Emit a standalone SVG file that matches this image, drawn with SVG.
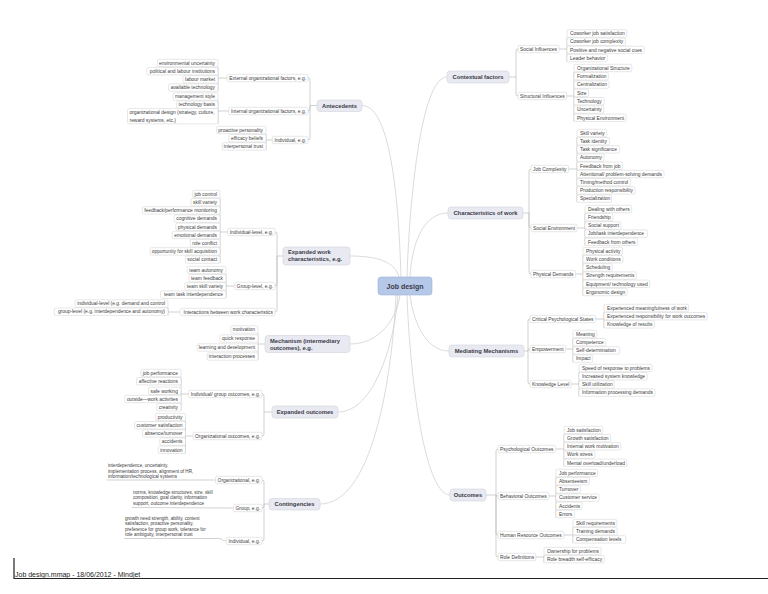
<svg xmlns="http://www.w3.org/2000/svg" width="768" height="594" viewBox="0 0 768 594">
<style>
.c{fill:none;stroke:#b3b3b3;stroke-width:.6}
.m{fill:none;stroke:#d2d2d2;stroke-width:.8}
.lf{fill:#fff;stroke:#cfcfcf;stroke-width:.5}
.t{font-family:"Liberation Sans",Arial,sans-serif;font-size:4.9px;fill:#3c3c3c}
.e{text-anchor:end}
.s{font-size:4.6px}
.mt{fill:#e9eaf1;stroke:#d2d4de;stroke-width:.6}
.rt{fill:#b5c8e8;stroke:#a0b4d8;stroke-width:.6}
.b{font-family:"Liberation Sans",Arial,sans-serif;font-weight:bold;font-size:5.8px;fill:#3a3a48}
.mid{text-anchor:middle}
</style>
<rect width="768" height="594" fill="#fff"/>
<g id="connectors">
<path class="m" d="M362,105.5 C392,105.5 399,210 401,277 M447,77 C420,77 409,210 407,277 M448,213 C425,213 412,240 410,277 M350,256 C378,256 395,262 399,277 M350,344 C380,344 397,318 400,295 M338,412 C375,412 395,340 398,295 M320,504 C372,504 392,380 396,295 M449,351 C425,351 413,320 410,295 M450,495 C425,495 410,380 407,295"/>
<path class="c" d="M509,77H516 M516,77V51Q516,49 518,49 M516,77V94Q516,96 518,96
M523,213H529 M529,213V171Q529,169 531,169 M529,213V226Q529,228 531,228 M529,213V272Q529,274 531,274
M524,351H528 M528,351V321Q528,319 530,319 M528,351V350.5Q528,349 530,349 M528,351V382Q528,384 530,384
M486,495H496 M496,495V451Q496,449 498,449 M496,495Q496,496 498,496 M496,495V533Q496,535 498,535 M496,495V555Q496,557 498,557
M317,105.5H310 M310,105.5V80Q310,78 308,78 M310,105.5V109Q310,111 308,111 M310,105.5V138Q310,140 308,140
M283,256H277 M277,256V234Q277,232 275,232 M277,256V284Q277,286 275,286 M277,256V310Q277,312 275,312
M272,412H264 M264,412V396Q264,394 262,394 M264,412V434Q264,436 262,436
M269,504H264 M264,504V482Q264,480 262,480 M264,504V506Q264,508 262,508 M264,504V539Q264,541 262,541"/>
<path class="c" d="M559,49H567 M567,37.2V61.8 M566.7,96H574 M574,71.7V121.5
M568.5,169H577 M577,136.7V202.3 M577.2,228H585 M585,212.7V245.5 M575.6,274H583 M583,254.7V295.7
M595.5,319H604 M604,311.7V328.1 M565.6,349H573 M573,337.7V362.3 M571.3,384H579 M579,371.7V396.3
M555.6,449H564 M564,433.7V466.5 M548.8,496H556 M556,476.7V517.7 M563.8,535H573 M573,526.7V543.1 M535.8,557H544 M544,554.7V562.9
M227.2,78H218 M218,66.7V91.3 M228.8,111H218 M218,100.2V123.8 M272.4,140H266 M266,133.7V150.1
M227.7,232H220 M220,197.7V263.3 M234.8,286H226 M226,273.7V298.3 M180,312H168 M168,307.2V315.4
M265,344H258 M258,333.2V360.2
M188.5,394H181 M181,376.7V410.9 M192.9,436H185.5 M185.5,420.7V453.5
M107,480H215.5 M132,507.5L233.5,508 M124,538.5H219 C222,538.5 222,541 226.4,541"/>
</g>
<g id="n-root"><rect class="rt" x="378" y="277" width="54" height="18" rx="3"/><text class="b mid" x="405" y="288.5" style="font-size:7px">Job design</text></g>
<g id="n-contextual"><rect class="mt" x="447" y="71" width="62" height="12" rx="3"/><text class="b mid" x="478" y="79">Contextual factors</text></g>
<g id="n-characteristics"><rect class="mt" x="448" y="207" width="75" height="12" rx="3"/><text class="b mid" x="485.5" y="215">Characteristics of work</text></g>
<g id="n-mediating"><rect class="mt" x="449" y="345" width="75" height="12" rx="3"/><text class="b mid" x="486.5" y="353">Mediating Mechanisms</text></g>
<g id="n-outcomes"><rect class="mt" x="450" y="489" width="36" height="12" rx="3"/><text class="b mid" x="468" y="497">Outcomes</text></g>
<g id="n-antecedents"><rect class="mt" x="317" y="100" width="45" height="11.5" rx="3"/><text class="b mid" x="339.5" y="107.6">Antecedents</text></g>
<g id="n-expwork"><rect class="mt" x="283" y="247" width="67" height="18" rx="3"/><text class="b" x="288" y="254.3">Expanded work</text><text class="b" x="288" y="261.3">characteristics, e.g.</text></g>
<g id="n-mechanism"><rect class="mt" x="265" y="335.5" width="85" height="17" rx="3"/><text class="b" x="270" y="342.5">Mechanism (intermediary</text><text class="b" x="270" y="349.5">outcomes), e.g.</text></g>
<g id="n-expout"><rect class="mt" x="272" y="406" width="66" height="12" rx="3"/><text class="b mid" x="305" y="414">Expanded outcomes</text></g>
<g id="n-contingencies"><rect class="mt" x="269" y="498.5" width="51" height="11.5" rx="3"/><text class="b mid" x="294.5" y="506.1">Contingencies</text></g>

<g id="n-social"><rect class="lf" x="518" y="45.3" width="41" height="7.4" rx="1.5"/><text class="t" x="520" y="50.7">Social Influences</text></g>
<g id="n-structural"><rect class="lf" x="518" y="92.3" width="48.7" height="7.4" rx="1.5"/><text class="t" x="520" y="97.7">Structural Influences</text></g>
<g id="n-s1"><rect class="lf" x="567" y="29.8" width="59.7" height="7.4" rx="1.5"/><text class="t" x="570" y="35.2">Coworker job satisfaction</text></g>
<g id="n-s2"><rect class="lf" x="567" y="38" width="58.4" height="7.4" rx="1.5"/><text class="t" x="570" y="43.4">Coworker job complexity</text></g>
<g id="n-s3"><rect class="lf" x="567" y="46.2" width="77.2" height="7.4" rx="1.5"/><text class="t" x="570" y="51.6">Positive and negative social cues</text></g>
<g id="n-s4"><rect class="lf" x="567" y="54.4" width="40.4" height="7.4" rx="1.5"/><text class="t" x="570" y="59.8">Leader behavior</text></g>
<g id="n-st1"><rect class="lf" x="574" y="64.3" width="57.8" height="7.4" rx="1.5"/><text class="t" x="577" y="69.7">Organizational Structure</text></g>
<g id="n-st2"><rect class="lf" x="574" y="72.6" width="34.4" height="7.4" rx="1.5"/><text class="t" x="577" y="78">Formalization</text></g>
<g id="n-st3"><rect class="lf" x="574" y="80.9" width="35" height="7.4" rx="1.5"/><text class="t" x="577" y="86.3">Centralization</text></g>
<g id="n-st4"><rect class="lf" x="574" y="89.2" width="14.5" height="7.4" rx="1.5"/><text class="t" x="577" y="94.6">Size</text></g>
<g id="n-st5"><rect class="lf" x="574" y="97.5" width="30.3" height="7.4" rx="1.5"/><text class="t" x="577" y="102.9">Technology</text></g>
<g id="n-st6"><rect class="lf" x="574" y="105.8" width="29.8" height="7.4" rx="1.5"/><text class="t" x="577" y="111.2">Uncertainty</text></g>
<g id="n-st7"><rect class="lf" x="574" y="114.1" width="52.1" height="7.4" rx="1.5"/><text class="t" x="577" y="119.5">Physical Environment</text></g>

<g id="n-jc"><rect class="lf" x="531" y="165.3" width="37.5" height="7.4" rx="1.5"/><text class="t" x="533" y="170.7">Job Complexity</text></g>
<g id="n-se"><rect class="lf" x="531" y="224.3" width="46.2" height="7.4" rx="1.5"/><text class="t" x="533" y="229.7">Social Environment</text></g>
<g id="n-pd"><rect class="lf" x="531" y="270.3" width="44.6" height="7.4" rx="1.5"/><text class="t" x="533" y="275.7">Physical Demands</text></g>
<g id="n-jc1"><rect class="lf" x="577" y="129.3" width="29.8" height="7.4" rx="1.5"/><text class="t" x="580" y="134.7">Skill variety</text></g>
<g id="n-jc2"><rect class="lf" x="577" y="137.5" width="32.5" height="7.4" rx="1.5"/><text class="t" x="580" y="142.9">Task identity</text></g>
<g id="n-jc3"><rect class="lf" x="577" y="145.7" width="42.6" height="7.4" rx="1.5"/><text class="t" x="580" y="151.1">Task significance</text></g>
<g id="n-jc4"><rect class="lf" x="577" y="153.9" width="27.1" height="7.4" rx="1.5"/><text class="t" x="580" y="159.3">Autonomy</text></g>
<g id="n-jc5"><rect class="lf" x="577" y="162.1" width="45.6" height="7.4" rx="1.5"/><text class="t" x="580" y="167.5">Feedback from job</text></g>
<g id="n-jc6"><rect class="lf" x="577" y="170.3" width="87" height="7.4" rx="1.5"/><text class="t" x="580" y="175.7">Attentional/ problem-solving demands</text></g>
<g id="n-jc7"><rect class="lf" x="577" y="178.5" width="53.5" height="7.4" rx="1.5"/><text class="t" x="580" y="183.9">Timing/method control</text></g>
<g id="n-jc8"><rect class="lf" x="577" y="186.7" width="58.1" height="7.4" rx="1.5"/><text class="t" x="580" y="192.1">Production responsibility</text></g>
<g id="n-jc9"><rect class="lf" x="577" y="194.9" width="34.7" height="7.4" rx="1.5"/><text class="t" x="580" y="200.3">Specialization</text></g>
<g id="n-se1"><rect class="lf" x="585" y="205.3" width="46.7" height="7.4" rx="1.5"/><text class="t" x="588" y="210.7">Dealing with others</text></g>
<g id="n-se2"><rect class="lf" x="585" y="213.5" width="27.9" height="7.4" rx="1.5"/><text class="t" x="588" y="218.9">Friendship</text></g>
<g id="n-se3"><rect class="lf" x="585" y="221.7" width="36" height="7.4" rx="1.5"/><text class="t" x="588" y="227.1">Social support</text></g>
<g id="n-se4"><rect class="lf" x="585" y="229.9" width="62.5" height="7.4" rx="1.5"/><text class="t" x="588" y="235.3">Job/task interdependence</text></g>
<g id="n-se5"><rect class="lf" x="585" y="238.1" width="52.7" height="7.4" rx="1.5"/><text class="t" x="588" y="243.5">Feedback from others</text></g>
<g id="n-pd1"><rect class="lf" x="583" y="247.3" width="39.6" height="7.4" rx="1.5"/><text class="t" x="586" y="252.7">Physical activity</text></g>
<g id="n-pd2"><rect class="lf" x="583" y="255.5" width="39.9" height="7.4" rx="1.5"/><text class="t" x="586" y="260.9">Work conditions</text></g>
<g id="n-pd3"><rect class="lf" x="583" y="263.7" width="29.2" height="7.4" rx="1.5"/><text class="t" x="586" y="269.1">Scheduling</text></g>
<g id="n-pd4"><rect class="lf" x="583" y="271.9" width="53.5" height="7.4" rx="1.5"/><text class="t" x="586" y="277.3">Strength requirements</text></g>
<g id="n-pd5"><rect class="lf" x="583" y="280.1" width="66.8" height="7.4" rx="1.5"/><text class="t" x="586" y="285.5">Equipment/ technology used</text></g>
<g id="n-pd6"><rect class="lf" x="583" y="288.3" width="44.2" height="7.4" rx="1.5"/><text class="t" x="586" y="293.7">Ergonomic design</text></g>

<g id="n-cps"><rect class="lf" x="530" y="315.3" width="65.5" height="7.4" rx="1.5"/><text class="t" x="532" y="320.7">Critical Psychological States</text></g>
<g id="n-emp"><rect class="lf" x="530" y="345.3" width="35.6" height="7.4" rx="1.5"/><text class="t" x="532" y="350.7">Empowerment</text></g>
<g id="n-kl"><rect class="lf" x="530" y="380.3" width="41.3" height="7.4" rx="1.5"/><text class="t" x="532" y="385.7">Knowledge Level</text></g>
<g id="n-cps1"><rect class="lf" x="604" y="304.3" width="84.6" height="7.4" rx="1.5"/><text class="t" x="607" y="309.7">Experienced meaningfulness of work</text></g>
<g id="n-cps2"><rect class="lf" x="604" y="312.5" width="103.3" height="7.4" rx="1.5"/><text class="t" x="607" y="317.9">Experienced responsibility for work outcomes</text></g>
<g id="n-cps3"><rect class="lf" x="604" y="320.7" width="50.5" height="7.4" rx="1.5"/><text class="t" x="607" y="326.1">Knowledge of results</text></g>
<g id="n-emp1"><rect class="lf" x="573" y="330.3" width="23.8" height="7.4" rx="1.5"/><text class="t" x="576" y="335.7">Meaning</text></g>
<g id="n-emp2"><rect class="lf" x="573" y="338.5" width="32.8" height="7.4" rx="1.5"/><text class="t" x="576" y="343.9">Competence</text></g>
<g id="n-emp3"><rect class="lf" x="573" y="346.7" width="46.7" height="7.4" rx="1.5"/><text class="t" x="576" y="352.1">Self-determination</text></g>
<g id="n-emp4"><rect class="lf" x="573" y="354.9" width="19.7" height="7.4" rx="1.5"/><text class="t" x="576" y="360.3">Impact</text></g>
<g id="n-kl1"><rect class="lf" x="579" y="364.3" width="73.1" height="7.4" rx="1.5"/><text class="t" x="582" y="369.7">Speed of response to problems</text></g>
<g id="n-kl2"><rect class="lf" x="579" y="372.5" width="68.2" height="7.4" rx="1.5"/><text class="t" x="582" y="377.9">Increased system knowledge</text></g>
<g id="n-kl3"><rect class="lf" x="579" y="380.7" width="35.3" height="7.4" rx="1.5"/><text class="t" x="582" y="386.1">Skill utilization</text></g>
<g id="n-kl4"><rect class="lf" x="579" y="388.9" width="76.1" height="7.4" rx="1.5"/><text class="t" x="582" y="394.3">Information processing demands</text></g>

<g id="n-psy"><rect class="lf" x="498" y="445.3" width="57.6" height="7.4" rx="1.5"/><text class="t" x="500" y="450.7">Psychological Outcomes</text></g>
<g id="n-beh"><rect class="lf" x="498" y="492.3" width="50.8" height="7.4" rx="1.5"/><text class="t" x="500" y="497.7">Behavioral Outcomes</text></g>
<g id="n-hr"><rect class="lf" x="498" y="531.3" width="65.8" height="7.4" rx="1.5"/><text class="t" x="500" y="536.7">Human Resource Outcomes</text></g>
<g id="n-rd"><rect class="lf" x="498" y="553.3" width="37.8" height="7.4" rx="1.5"/><text class="t" x="500" y="558.7">Role Definitions</text></g>
<g id="n-psy1"><rect class="lf" x="564" y="426.3" width="38.8" height="7.4" rx="1.5"/><text class="t" x="567" y="431.7">Job satisfaction</text></g>
<g id="n-psy2"><rect class="lf" x="564" y="434.5" width="46.7" height="7.4" rx="1.5"/><text class="t" x="567" y="439.9">Growth satisfaction</text></g>
<g id="n-psy3"><rect class="lf" x="564" y="442.7" width="56.7" height="7.4" rx="1.5"/><text class="t" x="567" y="448.1">Internal work motivation</text></g>
<g id="n-psy4"><rect class="lf" x="564" y="450.9" width="30.9" height="7.4" rx="1.5"/><text class="t" x="567" y="456.3">Work stress</text></g>
<g id="n-psy5"><rect class="lf" x="564" y="459.1" width="62.7" height="7.4" rx="1.5"/><text class="t" x="567" y="464.5">Mental overload/underload</text></g>
<g id="n-beh1"><rect class="lf" x="556" y="469.3" width="41.5" height="7.4" rx="1.5"/><text class="t" x="559" y="474.7">Job performance</text></g>
<g id="n-beh2"><rect class="lf" x="556" y="477.5" width="33.3" height="7.4" rx="1.5"/><text class="t" x="559" y="482.9">Absenteeism</text></g>
<g id="n-beh3"><rect class="lf" x="556" y="485.7" width="24.6" height="7.4" rx="1.5"/><text class="t" x="559" y="491.1">Turnover</text></g>
<g id="n-beh4"><rect class="lf" x="556" y="493.9" width="43.1" height="7.4" rx="1.5"/><text class="t" x="559" y="499.3">Customer service</text></g>
<g id="n-beh5"><rect class="lf" x="556" y="502.1" width="26.2" height="7.4" rx="1.5"/><text class="t" x="559" y="507.5">Accidents</text></g>
<g id="n-beh6"><rect class="lf" x="556" y="510.3" width="18.3" height="7.4" rx="1.5"/><text class="t" x="559" y="515.7">Errors</text></g>
<g id="n-hr1"><rect class="lf" x="573" y="519.3" width="43.9" height="7.4" rx="1.5"/><text class="t" x="576" y="524.7">Skill requirements</text></g>
<g id="n-hr2"><rect class="lf" x="573" y="527.5" width="44.2" height="7.4" rx="1.5"/><text class="t" x="576" y="532.9">Training demands</text></g>
<g id="n-hr3"><rect class="lf" x="573" y="535.7" width="52.7" height="7.4" rx="1.5"/><text class="t" x="576" y="541.1">Compensation levels</text></g>
<g id="n-rd1"><rect class="lf" x="544" y="547.3" width="57" height="7.4" rx="1.5"/><text class="t" x="547" y="552.7">Ownership for problems</text></g>
<g id="n-rd2"><rect class="lf" x="544" y="555.5" width="60.3" height="7.4" rx="1.5"/><text class="t" x="547" y="560.9">Role breadth self-efficacy</text></g>

<g id="n-ext"><rect class="lf" x="227.2" y="74.3" width="80.8" height="7.4" rx="1.5"/><text class="t e" x="306" y="79.7">External organizational factors, e.g.</text></g>
<g id="n-int"><rect class="lf" x="228.8" y="107.3" width="79.2" height="7.4" rx="1.5"/><text class="t e" x="306" y="112.7">Internal organizational factors, e.g.</text></g>
<g id="n-ind"><rect class="lf" x="272.4" y="136.3" width="35.6" height="7.4" rx="1.5"/><text class="t e" x="306" y="141.7">Individual, e.g.</text></g>
<g id="n-ext1"><rect class="lf" x="157.4" y="59.3" width="60.6" height="7.4" rx="1.5"/><text class="t e" x="215" y="64.7">environmental uncertainty</text></g>
<g id="n-ext2"><rect class="lf" x="146.8" y="67.5" width="71.2" height="7.4" rx="1.5"/><text class="t e" x="215" y="72.9">political and labour institutions</text></g>
<g id="n-ext3"><rect class="lf" x="183" y="75.7" width="35" height="7.4" rx="1.5"/><text class="t e" x="215" y="81.1">labour market</text></g>
<g id="n-ext4"><rect class="lf" x="168.6" y="83.9" width="49.4" height="7.4" rx="1.5"/><text class="t e" x="215" y="89.3">available technology</text></g>
<g id="n-int1"><rect class="lf" x="173" y="92.8" width="45" height="7.4" rx="1.5"/><text class="t e" x="215" y="98.2">management style</text></g>
<g id="n-int2"><rect class="lf" x="176.5" y="101" width="41.5" height="7.4" rx="1.5"/><text class="t e" x="215" y="106.4">technology basis</text></g>
<g id="n-int3"><rect class="lf" x="127.5" y="108.6" width="90.5" height="15.2" rx="1.5"/><text class="t" x="129.5" y="113.9">organizational design (strategy, culture,</text><text class="t" x="129.5" y="121.6">reward systems, etc.)</text></g>
<g id="n-ind1"><rect class="lf" x="216.6" y="126.3" width="49.4" height="7.4" rx="1.5"/><text class="t e" x="263" y="131.7">proactive personality</text></g>
<g id="n-ind2"><rect class="lf" x="228.9" y="134.5" width="37.1" height="7.4" rx="1.5"/><text class="t e" x="263" y="139.9">efficacy beliefs</text></g>
<g id="n-ind3"><rect class="lf" x="222.3" y="142.7" width="43.7" height="7.4" rx="1.5"/><text class="t e" x="263" y="148.1">interpersonal trust</text></g>

<g id="n-il"><rect class="lf" x="227.7" y="228.3" width="47.3" height="7.4" rx="1.5"/><text class="t e" x="273" y="233.7">Individual-level, e.g.</text></g>
<g id="n-gl"><rect class="lf" x="234.8" y="282.3" width="40.2" height="7.4" rx="1.5"/><text class="t e" x="273" y="287.7">Group-level, e.g.</text></g>
<g id="n-ia"><rect class="lf" x="180" y="308.3" width="95" height="7.4" rx="1.5"/><text class="t e" x="273" y="313.7">Interactions between work characteristics</text></g>
<g id="n-il1"><rect class="lf" x="192.4" y="190.3" width="27.6" height="7.4" rx="1.5"/><text class="t e" x="217" y="195.7">job control</text></g>
<g id="n-il2"><rect class="lf" x="191" y="198.5" width="29" height="7.4" rx="1.5"/><text class="t e" x="217" y="203.9">skill variety</text></g>
<g id="n-il3"><rect class="lf" x="142.3" y="206.7" width="77.7" height="7.4" rx="1.5"/><text class="t e" x="217" y="212.1">feedback/performance monitoring</text></g>
<g id="n-il4"><rect class="lf" x="174.1" y="214.9" width="45.9" height="7.4" rx="1.5"/><text class="t e" x="217" y="220.3">cognitive demands</text></g>
<g id="n-il5"><rect class="lf" x="175.8" y="223.1" width="44.2" height="7.4" rx="1.5"/><text class="t e" x="217" y="228.5">physical demands</text></g>
<g id="n-il6"><rect class="lf" x="172.2" y="231.3" width="47.8" height="7.4" rx="1.5"/><text class="t e" x="217" y="236.7">emotional demands</text></g>
<g id="n-il7"><rect class="lf" x="190.2" y="239.5" width="29.8" height="7.4" rx="1.5"/><text class="t e" x="217" y="244.9">role conflict</text></g>
<g id="n-il8"><rect class="lf" x="150.1" y="247.7" width="69.9" height="7.4" rx="1.5"/><text class="t e" x="217" y="253.1">opportunity for skill acquisition</text></g>
<g id="n-il9"><rect class="lf" x="185.3" y="255.9" width="34.7" height="7.4" rx="1.5"/><text class="t e" x="217" y="261.3">social contact</text></g>
<g id="n-gl1"><rect class="lf" x="187.2" y="266.3" width="38.8" height="7.4" rx="1.5"/><text class="t e" x="223" y="271.7">team autonomy</text></g>
<g id="n-gl2"><rect class="lf" x="188.9" y="274.5" width="37.1" height="7.4" rx="1.5"/><text class="t e" x="223" y="279.9">team feedback</text></g>
<g id="n-gl3"><rect class="lf" x="184.8" y="282.7" width="41.2" height="7.4" rx="1.5"/><text class="t e" x="223" y="288.1">team skill variety</text></g>
<g id="n-gl4"><rect class="lf" x="160.5" y="290.9" width="65.5" height="7.4" rx="1.5"/><text class="t e" x="223" y="296.3">team task interdependence</text></g>
<g id="n-ia1"><rect class="lf" x="75" y="299.8" width="93" height="7.4" rx="1.5"/><text class="t e" x="165" y="305.2">individual-level (e.g. demand and control</text></g>
<g id="n-ia2"><rect class="lf" x="54.3" y="308" width="113.7" height="7.4" rx="1.5"/><text class="t e" x="165" y="313.4">group-level (e.g. interdependence and autonomy)</text></g>

<g id="n-me1"><rect class="lf" x="230.7" y="325.8" width="27.3" height="7.4" rx="1.5"/><text class="t e" x="255" y="331.2">motivation</text></g>
<g id="n-me2"><rect class="lf" x="220" y="334.8" width="38" height="7.4" rx="1.5"/><text class="t e" x="255" y="340.2">quick response</text></g>
<g id="n-me3"><rect class="lf" x="197.2" y="343.8" width="60.8" height="7.4" rx="1.5"/><text class="t e" x="255" y="349.2">learning and development</text></g>
<g id="n-me4"><rect class="lf" x="207.2" y="352.8" width="50.8" height="7.4" rx="1.5"/><text class="t e" x="255" y="358.2">interaction processes</text></g>

<g id="n-ig"><rect class="lf" x="188.5" y="390.3" width="73.5" height="7.4" rx="1.5"/><text class="t e" x="260" y="395.7">Individual/ group outcomes, e.g.</text></g>
<g id="n-og"><rect class="lf" x="192.9" y="432.3" width="69.1" height="7.4" rx="1.5"/><text class="t e" x="260" y="437.7">Organizational outcomes, e.g.</text></g>
<g id="n-ig1"><rect class="lf" x="140.9" y="369.3" width="40.1" height="7.4" rx="1.5"/><text class="t e" x="178" y="374.7">job performance</text></g>
<g id="n-ig2"><rect class="lf" x="136.5" y="377.5" width="44.5" height="7.4" rx="1.5"/><text class="t e" x="178" y="382.9">affective reactions</text></g>
<g id="n-ig3"><rect class="lf" x="148.5" y="387.1" width="32.5" height="7.4" rx="1.5"/><text class="t e" x="178" y="392.5">safe working</text></g>
<g id="n-ig4"><rect class="lf" x="124.8" y="395.3" width="56.2" height="7.4" rx="1.5"/><text class="t e" x="178" y="400.7">outside—work activities</text></g>
<g id="n-ig5"><rect class="lf" x="156.7" y="403.5" width="24.3" height="7.4" rx="1.5"/><text class="t e" x="178" y="408.9">creativity</text></g>
<g id="n-og1"><rect class="lf" x="155.7" y="413.3" width="29.8" height="7.4" rx="1.5"/><text class="t e" x="182.5" y="418.7">productivity</text></g>
<g id="n-og2"><rect class="lf" x="134.5" y="421.5" width="51" height="7.4" rx="1.5"/><text class="t e" x="182.5" y="426.9">customer satisfaction</text></g>
<g id="n-og3"><rect class="lf" x="142.6" y="429.7" width="42.9" height="7.4" rx="1.5"/><text class="t e" x="182.5" y="435.1">absence/turnover</text></g>
<g id="n-og4"><rect class="lf" x="159.8" y="437.9" width="25.7" height="7.4" rx="1.5"/><text class="t e" x="182.5" y="443.3">accidents</text></g>
<g id="n-og5"><rect class="lf" x="158.2" y="446.1" width="27.3" height="7.4" rx="1.5"/><text class="t e" x="182.5" y="451.5">innovation</text></g>

<g id="n-corg"><rect class="lf" x="215.5" y="476.3" width="46.5" height="7.4" rx="1.5"/><text class="t e" x="260" y="481.7">Organizational, e.g.</text></g>
<g id="n-cgrp"><rect class="lf" x="233.5" y="504.3" width="28.5" height="7.4" rx="1.5"/><text class="t e" x="260" y="509.7">Group, e.g.</text></g>
<g id="n-cind"><rect class="lf" x="226.4" y="537.3" width="35.6" height="7.4" rx="1.5"/><text class="t e" x="260" y="542.7">Individual, e.g.</text></g>
<g id="n-corg1"><text class="t s" x="108" y="467.2">interdependence, uncertainty,</text><text class="t s" x="108" y="472.6">implementation process, alignment of HR,</text><text class="t s" x="108" y="478">information/technological systems</text></g>
<g id="n-cgrp1"><text class="t s" x="133" y="493.6">norms, knowledge structures, size, skill</text><text class="t s" x="133" y="499.1">composition, goal clarity, information</text><text class="t s" x="133" y="504.6">support, outcome interdependence</text></g>
<g id="n-cind1"><text class="t s" x="125" y="519.6">growth need strength, ability, context</text><text class="t s" x="125" y="525.2">satisfaction, proactive personality,</text><text class="t s" x="125" y="530.8">preference for group work, tolerance for</text><text class="t s" x="125" y="536.4">role ambiguity, interpersonal trust</text></g>

<g id="footer"><path d="M14,558V578.5H768" fill="none" stroke="#222" stroke-width="1.2"/><text x="15" y="576.5" style="font-family:'Liberation Sans',Arial,sans-serif;font-size:7px;fill:#222">Job design.mmap - 18/06/2012 - Mindjet</text></g>
</svg>
